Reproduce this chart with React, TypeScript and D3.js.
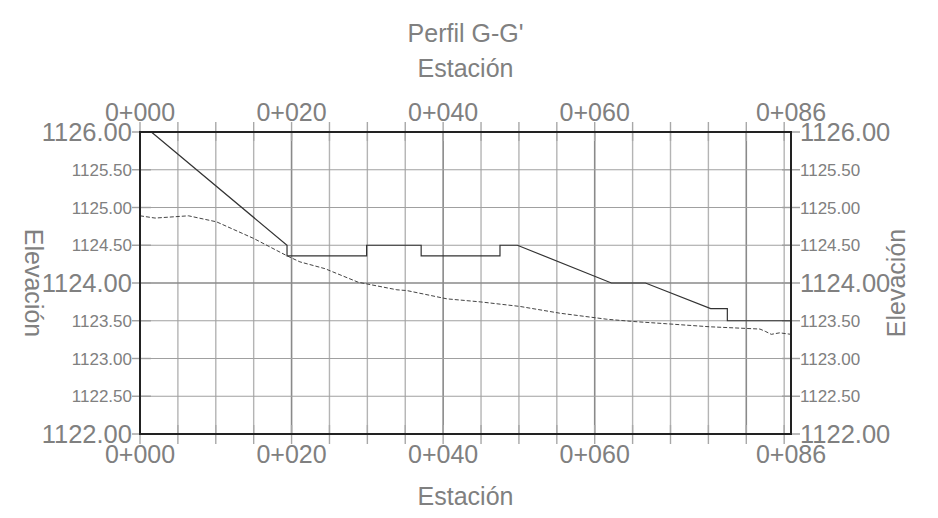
import React from "react";
import * as d3 from "d3";

const designStations = [1.5, 19.4, 19.4, 29.9, 29.9, 37.1, 37.1, 47.5, 47.5, 49.8, 62.2, 66.7, 75.3, 77.5, 77.5, 85.9];
const designElev = [1126.0, 1124.5, 1124.36, 1124.36, 1124.5, 1124.5, 1124.36, 1124.36, 1124.5, 1124.5, 1124.0, 1124.0, 1123.66, 1123.66, 1123.5, 1123.5];

const groundStations = [0, 2.0, 6.4, 10.1, 15.0, 19.4, 21.1, 24.4, 28.8, 33.9, 35.2, 40.5, 44.9, 50.1, 55.4, 61.6, 65.1, 69.5, 75.2, 81.8, 82.5, 83.3, 84.4, 85.9];
const groundElev = [1124.89, 1124.86, 1124.89, 1124.81, 1124.59, 1124.36, 1124.28, 1124.19, 1124.01, 1123.91, 1123.9, 1123.79, 1123.75, 1123.69, 1123.6, 1123.52, 1123.49, 1123.46, 1123.42, 1123.39, 1123.36, 1123.32, 1123.34, 1123.32];

const stationLabels = [0, 20, 40, 60, 85.9];
const stationLabelText = ["0+000", "0+020", "0+040", "0+060", "0+086"];
const minorStations = [0, 5, 10, 15, 20, 25, 30, 35, 40, 45, 50, 55, 60, 65, 70, 75, 80, 85];
const elevTicks = [1122, 1122.5, 1123, 1123.5, 1124, 1124.5, 1125, 1125.5, 1126];
const majorElev = [1122, 1124, 1126];

const W = 938, H = 518;
const L = 140, R = 791, T = 132, B = 434;
const FONT = "'Liberation Sans', Arial, sans-serif";
const TXT = "#808080";

export default function App() {
  const x = d3.scaleLinear().domain([0, 85.9]).range([L, R]);
  const y = d3.scaleLinear().domain([1122, 1126]).range([B, T]);
  const line = d3.line<[number, number]>().x((d) => x(d[0])).y((d) => y(d[1]));
  const design = designStations.map((s, i) => [s, designElev[i]] as [number, number]);
  const ground = groundStations.map((s, i) => [s, groundElev[i]] as [number, number]);

  return (
    <div style={{ position: "fixed", left: 0, top: 0 }}>
      <svg width={W} height={H} style={{ display: "block", background: "#fff" }} fontFamily={FONT}>
        {minorStations.map((s) => (
          <line key={"vg" + s} x1={x(s)} x2={x(s)} y1={T} y2={B}
            stroke={s % 20 === 0 ? "#8a8a8a" : "#b4b4b4"} strokeWidth={s % 20 === 0 ? 1.6 : 1.4} />
        ))}
        {elevTicks.map((e) => (
          <line key={"hg" + e} x1={L} x2={R} y1={y(e)} y2={y(e)}
            stroke={majorElev.includes(e) ? "#8a8a8a" : "#a0a0a0"} strokeWidth={majorElev.includes(e) ? 1.6 : 1.2} />
        ))}
        {minorStations.map((s) => (
          <g key={"tk" + s} stroke="#a8a8a8" strokeWidth={1.4}>
            <line x1={x(s)} x2={x(s)} y1={T - 10} y2={T + 9} />
            <line x1={x(s)} x2={x(s)} y1={B - 9} y2={B + 10} />
          </g>
        ))}
        {elevTicks.map((e) => (
          <g key={"yt" + e} stroke="#a0a0a0" strokeWidth={1.4}>
            <line x1={L - 8} x2={L + 11} y1={y(e)} y2={y(e)} />
            <line x1={R - 9} x2={R + 9} y1={y(e)} y2={y(e)} />
          </g>
        ))}
        <path d={line(ground) || ""} fill="none" stroke="#444" strokeWidth={1} strokeDasharray="4,2" />
        <path d={line(design) || ""} fill="none" stroke="#333" strokeWidth={1.2} />
        <rect x={L} y={T} width={R - L} height={B - T} fill="none" stroke="#222" strokeWidth={2} />

        {elevTicks.map((e) => {
          const big = majorElev.includes(e);
          return (
            <g key={"yl" + e} fill={TXT} fontSize={big ? 25.5 : 17}>
              <text x={L - 8} y={y(e)} dy="0.36em" textAnchor="end">{e.toFixed(2)}</text>
              <text x={R + 9} y={y(e)} dy="0.36em" textAnchor="start">{e.toFixed(2)}</text>
            </g>
          );
        })}
        {stationLabels.map((s, i) => (
          <g key={"xl" + s} fill={TXT} fontSize={25} textAnchor="middle">
            <text x={x(s)} y={121}>{stationLabelText[i]}</text>
            <text x={x(s)} y={463}>{stationLabelText[i]}</text>
          </g>
        ))}
        <text x={(L + R) / 2} y={42} textAnchor="middle" fill={TXT} fontSize={25}>Perfil G-G'</text>
        <text x={(L + R) / 2} y={77} textAnchor="middle" fill={TXT} fontSize={25}>Estación</text>
        <text x={(L + R) / 2} y={505} textAnchor="middle" fill={TXT} fontSize={25}>Estación</text>
        <text transform={`translate(25,${(T + B) / 2}) rotate(90)`} textAnchor="middle" fill={TXT} fontSize={25}>Elevación</text>
        <text transform={`translate(905,${(T + B) / 2}) rotate(-90)`} textAnchor="middle" fill={TXT} fontSize={25}>Elevación</text>
      </svg>
    </div>
  );
}
